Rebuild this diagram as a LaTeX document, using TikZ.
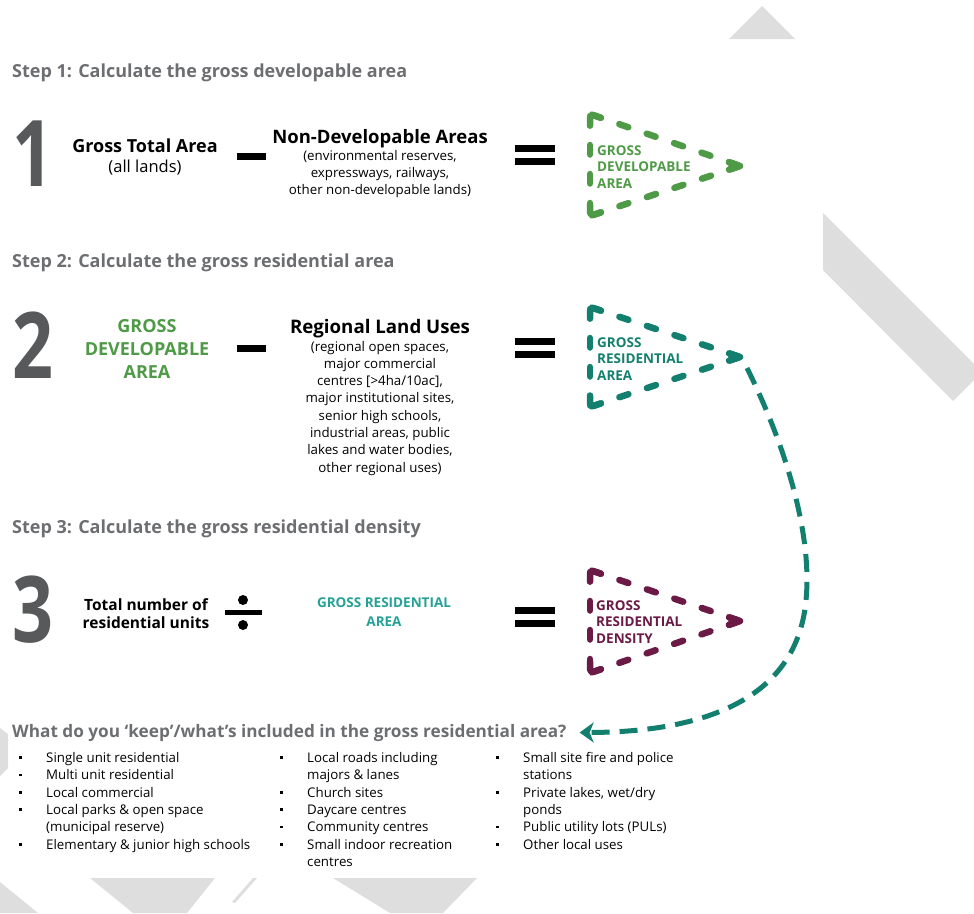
\documentclass[tikz,border=0pt]{standalone}
\usepackage{fontspec}
\setmainfont{Open Sans}
\usetikzlibrary{arrows.meta, positioning, calc}

\definecolor{titlegray}{HTML}{6D6E71}
\definecolor{digitgray}{HTML}{58595B}
\definecolor{devgreen}{HTML}{4F9A46}
\definecolor{resteal}{HTML}{13806F}
\definecolor{resteallight}{HTML}{25A195}
\definecolor{densmaroon}{HTML}{6B1A45}
\definecolor{bggray}{HTML}{DEDEDE}

% list bullets
\newcommand{\itm}{\makebox[27pt][l]{\raisebox{3.5pt}{\rule{2.6pt}{2.6pt}}}}
\newcommand{\cont}{\hspace*{27pt}}

\begin{document}
\begin{tikzpicture}[
    x=1pt, y=-1pt,
    >=Stealth,
    every node/.style={inner sep=0pt},
    steptitle/.style={anchor=base west, text=titlegray,
                      font=\fontsize{18}{20}\selectfont\bfseries},
    bignum/.style={anchor=base west, text=digitgray,
                   font=\fontsize{92}{92}\selectfont\bfseries},
    term/.style={anchor=base, font=\fontsize{18}{21}\selectfont\bfseries},
    note/.style={anchor=base, align=center, font=\fontsize{13.3}{17.3}\selectfont},
    trilabel/.style={anchor=base west, align=left,
                     font=\fontsize{13.5}{16.7}\selectfont\bfseries},
    triedge/.style={line width=6.5pt, line cap=round,
                    dash pattern=on 9.5pt off 19.5pt, dash phase=27pt},
    trihook/.style={line width=6.5pt, line cap=round, line join=round},
    bar/.style={fill=black},
    listcol/.style={anchor=base west, align=left,
                    font=\fontsize{13.3}{17.3}\selectfont},
    bgshape/.style={fill=bggray}
  ]
  \useasboundingbox (0,0) rectangle (974,913);

  % background shapes
  \fill[bgshape] (729,39) -- (762,6) -- (795,39) -- cycle;
  \fill[bgshape] (823,213) -- (974,364) -- (974,380) -- (953,401) -- (823,270) -- cycle;
  \fill[bgshape] (0,728) -- (8,734) -- (8,768) -- (0,776) -- cycle;
  \fill[bgshape] (0,882) -- (38,913) -- (0,913) -- cycle;
  \fill[bgshape] (90,878) -- (215,878) -- (187,913) -- (133,913) -- cycle;
  \fill[bgshape] (253,878) -- (257,878) -- (235,903) -- (232,902) -- cycle;
  \fill[bgshape] (333,878) -- (477,878) -- (443,913) -- (390,913) -- cycle;

  % dashed result triangles
  \foreach \i/\ytop/\ytip/\ybot/\col in {1/114/166/216/devgreen,
      2/307/357/407/resteal, 3/570/621/673/densmaroon} {
    \coordinate (t\i a) at (590,\ytop);
    \coordinate (t\i tip) at (740,\ytip);
    \coordinate (t\i b) at (590,\ybot);
    \draw[triedge, \col] (t\i a) -- (t\i b);
    \draw[triedge, \col] (t\i a) -- (t\i tip);
    \draw[triedge, \col] (t\i b) -- (t\i tip);
    \draw[trihook, \col, rounded corners=4pt]
      ($(t\i a)!11.5pt!(t\i tip)$) -- (t\i a) -- ($(t\i a)!11.5pt!(t\i b)$);
    \draw[trihook, \col, rounded corners=4pt]
      ($(t\i b)!11.5pt!(t\i tip)$) -- (t\i b) -- ($(t\i b)!11.5pt!(t\i a)$);
    \draw[trihook, \col]
      ($(t\i tip)!11.5pt!(t\i a)$) -- (t\i tip) -- ($(t\i tip)!11.5pt!(t\i b)$);
  }

  % step 1
  \node[steptitle] (title1) at (12,77) {Step 1: Calculate the gross developable area};
  \node[bignum] (num1) at (12,186) {\scalebox{0.78}[1]{1}};
  \node[term] (gta) at (145,152) {Gross Total Area};
  \node[note, font=\fontsize{16.5}{18}\selectfont] (gtasub) at (145,172) {(all lands)};
  \fill[bar] (237,153) rectangle (266,160);
  \node[term, font=\fontsize{18.5}{21}\selectfont\bfseries] (nda) at (380,143) {Non-Developable Areas};
  \node[note] (ndasub) at (380,194.6) {(environmental reserves,\\expressways, railways,\\other non-developable lands)};
  \fill[bar] (515,145) rectangle (555,152);
  \fill[bar] (515,158) rectangle (555,165);
  \node[trilabel, text=devgreen] (gda) at (597,188.4) {GROSS\\DEVELOPABLE\\AREA};

  % step 2
  \node[steptitle] (title2) at (12,267) {Step 2: Calculate the gross residential area};
  \node[bignum] (num2) at (12,378) {\scalebox{0.78}[1]{2}};
  \node[term, align=center, text=devgreen,
        font=\fontsize{18}{23}\selectfont\bfseries] (gdain) at (147,378) {GROSS\\DEVELOPABLE\\AREA};
  \fill[bar] (237,345) rectangle (266,352);
  \node[term, font=\fontsize{18.7}{21}\selectfont\bfseries] (rlu) at (380,333) {Regional Land Uses};
  \node[note] (rlusub) at (380,472.1) {(regional open spaces,\\major commercial\\centres [>4ha/10ac],\\major institutional sites,\\senior high schools,\\industrial areas, public\\lakes and water bodies,\\other regional uses)};
  \fill[bar] (515,338) rectangle (555,345);
  \fill[bar] (515,351) rectangle (555,358);
  \node[trilabel, text=resteal] (gra) at (597,380.4) {GROSS\\RESIDENTIAL\\AREA};

  % step 3
  \node[steptitle] (title3) at (12,533) {Step 3: Calculate the gross residential density};
  \node[bignum] (num3) at (12,642) {\scalebox{0.78}[1]{3}};
  \node[term, align=center, font=\fontsize{15.5}{18}\selectfont\bfseries] (units) at (146,628) {Total number of\\residential units};
  \fill[bar] (225,610) rectangle (262,615);
  \fill[bar] (243,600) circle (5);
  \fill[bar] (243,625) circle (5);
  \node[term, align=center, text=resteallight,
        font=\fontsize{13.5}{19}\selectfont\bfseries] (grain) at (384,626) {GROSS RESIDENTIAL\\AREA};
  \fill[bar] (515,607) rectangle (555,614);
  \fill[bar] (515,620) rectangle (555,627);
  \node[trilabel, text=densmaroon] (grd) at (596,643.4) {GROSS\\RESIDENTIAL\\DENSITY};

  % what is kept
  \node[steptitle, font=\fontsize{17.2}{20}\selectfont\bfseries] (qhead) at (12,737) {What do you ‘keep’/what’s included in the gross residential area?};
  \draw[->, resteal, line width=5pt, dash pattern=on 18pt off 10pt,
        arrows={-Stealth[length=14pt, width=20pt, inset=4pt]}]
    ([xshift=7pt, yshift=-11pt]t2tip) .. controls (790,455) and (812,540) .. (806,600)
    .. controls (798,690) and (720,732) .. ([xshift=13pt]qhead.east);

  \node[listcol] (keep1) at (19,849) {\itm Single unit residential\\
    \itm Multi unit residential\\
    \itm Local commercial\\
    \itm Local parks \& open space\\
    \cont(municipal reserve)\\
    \itm Elementary \& junior high schools};
  \node[listcol] (keep2) at (280,866.3) {\itm Local roads including\\
    \cont majors \& lanes\\
    \itm Church sites\\
    \itm Daycare centres\\
    \itm Community centres\\
    \itm Small indoor recreation\\
    \cont centres};
  \node[listcol] (keep3) at (496,849) {\itm Small site fire and police\\
    \cont stations\\
    \itm Private lakes, wet/dry\\
    \cont ponds\\
    \itm Public utility lots (PULs)\\
    \itm Other local uses};
\end{tikzpicture}
\end{document}
